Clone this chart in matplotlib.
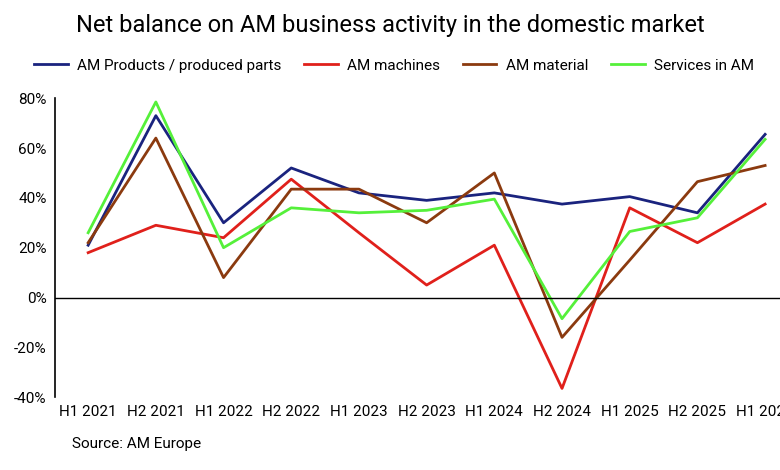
import matplotlib
matplotlib.use("Agg")
import matplotlib.pyplot as plt
from matplotlib.ticker import FuncFormatter

periods = ["H1 2021","H2 2021","H1 2022","H2 2022","H1 2023","H2 2023","H1 2024","H2 2024","H1 2025","H2 2025","H1 2026"]
products = [21, 73, 30, 52, 42, 39, 42, 37.5, 40.5, 34, 65.5]
machines = [18, 29, 24, 47.5, 26, 5, 21, -36.5, 36, 22, 37.5]
material = [22, 64, 8, 43.5, 43.5, 30, 50, -16, 15, 46.5, 53]
services = [26, 78.5, 20, 36, 34, 35, 39.5, -8.5, 26.5, 32, 63.5]

plt.rcParams['font.family'] = ['Roboto', 'DejaVu Sans']
fig = plt.figure(figsize=(7.8, 4.7), dpi=100)
ax = fig.add_axes([0.0705, 0.155, 0.9295, 0.636])
x = range(len(periods))
ax.plot(x, products, color='#1a237e', lw=2, label='AM Products / produced parts')
ax.plot(x, machines, color='#e0201b', lw=2, label='AM machines')
ax.plot(x, material, color='#8b3a0f', lw=2, label='AM material')
ax.plot(x, services, color='#55f03a', lw=2, label='Services in AM')
ax.axhline(0, color='black', lw=1)
ax.set_xlim(-0.49, 10.22)
ax.set_ylim(-40, 80)
ax.set_yticks(range(-40, 81, 20))
ax.yaxis.set_major_formatter(FuncFormatter(lambda v, p: f"{int(v)}%"))
ax.set_xticks(list(x))
ax.set_xticklabels(periods)
ax.tick_params(length=0, labelsize=11, pad=6)
for s in ['top', 'right', 'bottom']:
    ax.spines[s].set_visible(False)
ax.spines['left'].set_linewidth(1.2)
ax.set_ylabel('Net balance', color='#bbbbbb', fontsize=9)
ax.yaxis.set_label_coords(-0.075, 0.5)
fig.text(0.5, 0.945, 'Net balance on AM business activity in the domestic market', ha='center', va='center', fontsize=17)
fig.legend(loc='center', bbox_to_anchor=(0.505, 0.86), ncol=4, frameon=False, fontsize=11, handlelength=2.2, columnspacing=1.5, handletextpad=0.6)
fig.text(0.092, 0.055, 'Source: AM Europe', fontsize=11, va='center')
fig.savefig('out.png', dpi=100)
